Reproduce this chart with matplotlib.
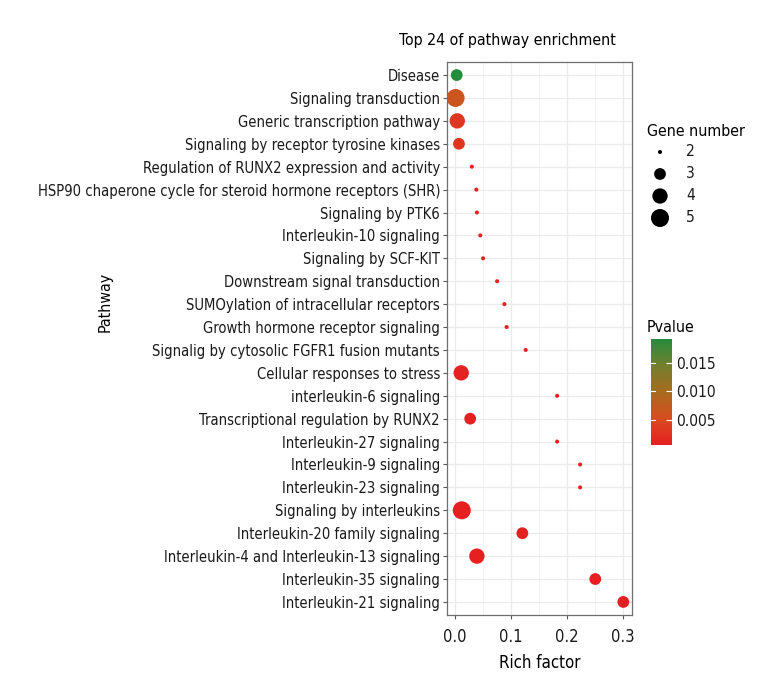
import matplotlib
matplotlib.use("Agg")
import matplotlib.pyplot as plt
from matplotlib.colors import LinearSegmentedColormap, Normalize
from matplotlib import font_manager as fm
import numpy as np

# pick a condensed family if one is installed
cond = None
for f in fm.fontManager.ttflist:
    low = f.fname.lower()
    if ('narrow' in low or 'condensed' in low) and 'bold' not in low and 'oblique' not in low and 'italic' not in low:
        if cond is None or 'liberation' in low:
            cond = f
if cond is not None:
    FAM = [cond.name, 'DejaVu Sans']
    STRETCH = cond.stretch
else:
    FAM = ['Liberation Sans', 'DejaVu Sans']
    STRETCH = 'normal'
plt.rcParams['font.family'] = FAM
plt.rcParams['font.stretch'] = STRETCH

pathways = ["Disease", "Signaling transduction", "Generic transcription pathway",
            "Signaling by receptor tyrosine kinases",
            "Regulation of RUNX2 expression and activity",
            "HSP90 chaperone cycle for steroid hormone receptors (SHR)",
            "Signaling by PTK6", "Interleukin-10 signaling", "Signaling by SCF-KIT",
            "Downstream signal transduction", "SUMOylation of intracellular receptors",
            "Growth hormone receptor signaling",
            "Signalig by cytosolic FGFR1 fusion mutants", "Cellular responses to stress",
            "interleukin-6 signaling", "Transcriptional regulation by RUNX2",
            "Interleukin-27 signaling", "Interleukin-9 signaling",
            "Interleukin-23 signaling", "Signaling by interleukins",
            "Interleukin-20 family signaling",
            "Interleukin-4 and Interleukin-13 signaling",
            "Interleukin-35 signaling", "Interleukin-21 signaling"]
rich_factor = [0.003, 0.001, 0.004, 0.007, 0.030, 0.038, 0.039, 0.045, 0.050,
               0.075, 0.088, 0.092, 0.126, 0.011, 0.182, 0.027, 0.182, 0.223,
               0.223, 0.012, 0.120, 0.039, 0.250, 0.300]
gene_number = [3, 5, 4, 3, 2, 2, 2, 2, 2, 2, 2, 2, 2, 4, 2, 3, 2, 2, 2, 5, 3, 4, 3, 3]
pvalue = [0.0192, 0.0065, 0.0030, 0.0028, 0.0008, 0.0008, 0.0008, 0.0008, 0.0008,
          0.0008, 0.0008, 0.0008, 0.0008, 0.0010, 0.0008, 0.0008, 0.0008, 0.0008,
          0.0008, 0.0006, 0.0008, 0.0008, 0.0008, 0.0008]
x_ticks = [0.0, 0.1, 0.2, 0.3]
cbar_ticks = [0.005, 0.010, 0.015]
legend_sizes = [2, 3, 4, 5]

size_map = {2: 8.5, 3: 72, 4: 122, 5: 168}

cmap = LinearSegmentedColormap.from_list("pv", [
    (0.0, (0.90, 0.12, 0.13)),
    (0.25, (0.84, 0.30, 0.12)),
    (0.5, (0.66, 0.42, 0.12)),
    (0.75, (0.45, 0.50, 0.18)),
    (1.0, (0.14, 0.55, 0.24))])
norm = Normalize(vmin=min(pvalue), vmax=max(pvalue))

fig = plt.figure(figsize=(7.8, 7.0), dpi=100)
W, H = 780, 700

# choose font size so the longest label spans ~404 px as in the reference
renderer = fig.canvas.get_renderer()
probe = fig.text(0, 0, pathways[5], fontsize=10)
wpx = probe.get_window_extent(renderer).width
probe.remove()
FS = 10 * 402.0 / wpx
FS_T = FS * 1.08

ax = fig.add_axes([447 / W, 1 - 615 / H, (631.5 - 447) / W, (615 - 62) / H])

ypos = np.arange(len(pathways))
ax.scatter(rich_factor, ypos, s=[size_map[g] for g in gene_number],
           c=pvalue, cmap=cmap, norm=norm, linewidths=0, zorder=3)
ax.set_xlim(-0.0143, 0.3146)
ax.set_ylim(len(pathways) - 1 + 0.57, -0.57)
ax.set_yticks(ypos)
ax.set_yticklabels(pathways, fontsize=FS, color='#1a1a1a')
ax.set_xticks(x_ticks)
ax.set_xticklabels([f"{t:.1f}" for t in x_ticks], fontsize=FS * 1.12, color='#1a1a1a')
ax.set_xticks([0.05, 0.15, 0.25], minor=True)
ax.grid(True, which='major', color='#ebebeb', linewidth=0.9, zorder=0)
ax.grid(True, which='minor', axis='x', color='#f2f2f2', linewidth=0.5, zorder=0)
ax.set_axisbelow(True)
for sp in ax.spines.values():
    sp.set_color('#6e6e6e')
    sp.set_linewidth(0.9)
ax.tick_params(axis='both', which='major', length=3, color='#555555', width=0.8, pad=2)
ax.tick_params(axis='x', which='major', pad=6)
ax.tick_params(axis='x', which='minor', length=0)

fig.text(540 / W, 1 - 663 / H, "Rich factor", ha='center', va='center', fontsize=FS_T * 1.05)
fig.text(105 / W, 1 - 302 / H, "Pathway", ha='center', va='center', fontsize=FS_T,
         rotation=90)
fig.text(507 / W, 1 - 40 / H, "Top 24 of pathway enrichment", ha='center',
         va='center', fontsize=FS_T)

# Gene number legend
lax = fig.add_axes([0, 0, 1, 1])
lax.set_xlim(0, W)
lax.set_ylim(H, 0)
lax.axis('off')
lax.text(647, 131, "Gene number", ha='left', va='center', fontsize=FS_T)
leg_y = [152, 174, 196, 218]
lax.scatter([660] * 4, leg_y, s=[size_map[g] for g in legend_sizes], color='black',
            linewidths=0)
for g, yy in zip(legend_sizes, leg_y):
    lax.text(686, yy, str(g), ha='left', va='center', fontsize=FS * 1.05, color='#1a1a1a')
lax.text(647, 327, "Pvalue", ha='left', va='center', fontsize=FS_T)

# Colorbar
cax = fig.add_axes([651 / W, 1 - 445 / H, 21 / W, 106 / H])
sm = matplotlib.cm.ScalarMappable(norm=norm, cmap=cmap)
cb = fig.colorbar(sm, cax=cax, ticks=cbar_ticks)
cb.outline.set_visible(False)
cb.ax.set_yticklabels([f"{t:.3f}" for t in cbar_ticks], fontsize=FS * 1.05, color='#1a1a1a')
cb.ax.tick_params(length=4, color='white', width=0.8, direction='in', pad=3)
for t in cbar_ticks:
    cax.plot([0, 0.2], [t, t], color='white', lw=0.8, transform=cax.get_yaxis_transform())

fig.savefig("out.png", dpi=100)
